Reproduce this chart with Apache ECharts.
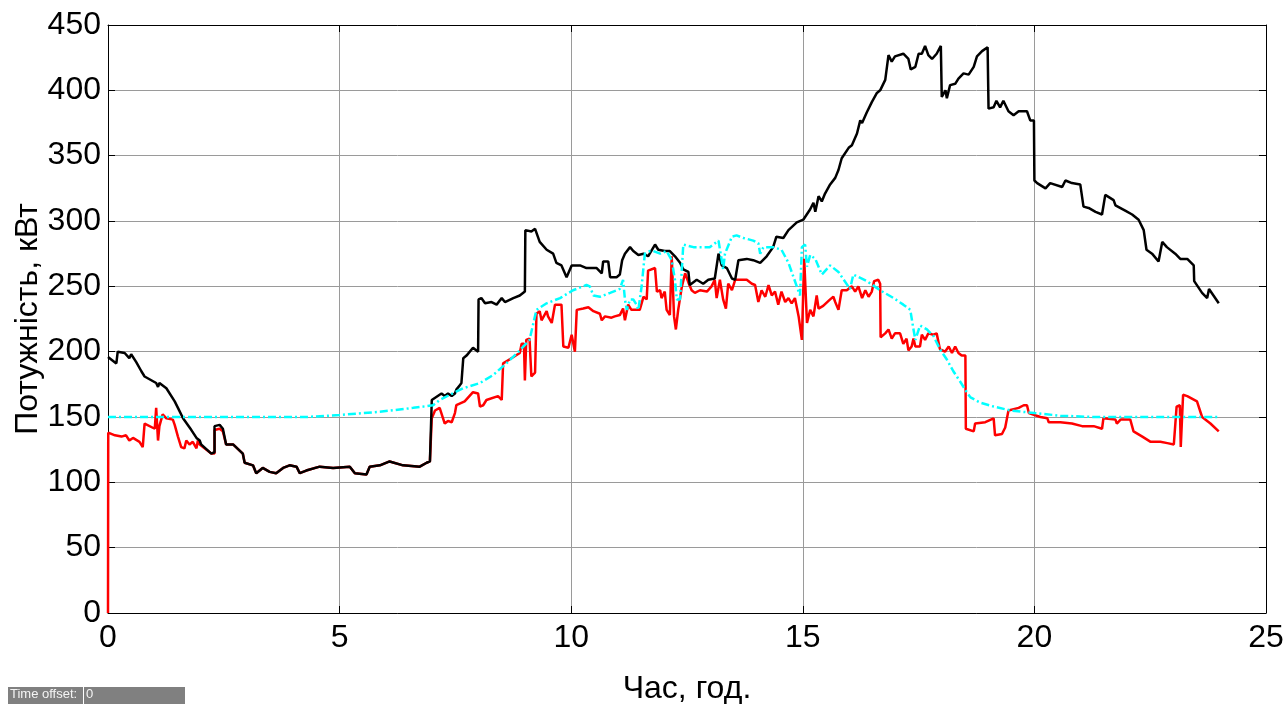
<!DOCTYPE html>
<html>
<head>
<meta charset="utf-8">
<script src="https://cdn.jsdelivr.net/npm/echarts@6/dist/echarts.min.js"></script>
<style>
html,body{margin:0;padding:0;background:#fff;}
#chart{width:1286px;height:704px;}
</style>
</head>
<body>
<div id="chart"></div>
<script>
// ---- Data ----
const xTicks = [0, 5, 10, 15, 20, 25];
const yTicks = [0, 50, 100, 150, 200, 250, 300, 350, 400, 450];

const blackHours = [0.00,0.18,0.21,0.36,0.46,0.50,0.61,0.72,0.79,1.04,1.08,1.11,1.26,1.44,1.51,1.62,1.80,1.91,1.98,2.01,2.23,2.30,2.30,2.41,2.48,2.55,2.70,2.91,2.95,3.13,3.20,3.34,3.49,3.63,3.78,3.92,4.07,4.14,4.28,4.57,4.86,5.22,5.33,5.58,5.65,5.87,6.08,6.37,6.73,6.88,6.95,6.98,6.99,7.02,7.20,7.27,7.34,7.42,7.49,7.52,7.59,7.63,7.67,7.74,7.88,7.99,8.00,8.06,8.14,8.28,8.39,8.50,8.57,8.75,8.89,9.00,9.01,9.14,9.22,9.32,9.47,9.61,9.68,9.79,9.90,10.01,10.19,10.33,10.55,10.66,10.69,10.80,10.84,10.98,11.05,11.10,11.16,11.27,11.34,11.45,11.56,11.66,11.81,11.88,12.02,12.13,12.24,12.35,12.42,12.53,12.56,12.71,12.85,12.96,13.10,13.18,13.25,13.36,13.47,13.54,13.61,13.79,13.93,14.08,14.22,14.36,14.43,14.58,14.69,14.87,15.01,15.16,15.23,15.27,15.34,15.41,15.48,15.59,15.70,15.77,15.84,15.99,16.06,16.17,16.24,16.28,16.38,16.49,16.60,16.67,16.78,16.85,16.92,16.99,17.17,17.28,17.33,17.43,17.50,17.57,17.64,17.71,17.79,17.89,17.98,18.00,18.08,18.11,18.18,18.29,18.36,18.47,18.58,18.69,18.76,18.87,18.99,19.01,19.12,19.18,19.26,19.33,19.44,19.55,19.66,19.84,19.91,19.99,20.00,20.06,20.24,20.34,20.60,20.67,20.81,20.99,21.06,21.17,21.32,21.46,21.53,21.71,21.75,21.96,22.11,22.25,22.36,22.42,22.54,22.68,22.76,22.86,23.04,23.15,23.30,23.44,23.45,23.62,23.73,23.77,23.98];
const blackValues = [196,191,200,199,195,198,192,185,181,176,173,176,172,162,157,149,140,134,132,129,122,123,143,144,141,129,129,122,115,113,107,111,108,107,111,113,112,107,109,112,111,112,107,106,112,113,116,113,112,115,116,117,163,164,168,166,168,166,168,171,174,176,195,197,203,200,240,241,237,238,236,241,238,241,243,246,293,292,294,284,278,275,268,266,257,266,266,264,264,260,269,269,257,257,259,270,275,280,277,274,275,273,282,278,277,277,273,268,263,261,251,255,252,255,256,275,266,264,256,255,270,271,270,268,273,280,288,287,293,299,301,309,314,307,319,315,321,328,333,339,348,356,358,367,377,375,383,391,398,400,408,427,422,426,428,424,416,418,428,428,434,427,424,428,434,395,400,394,404,405,409,413,412,418,426,430,433,386,387,392,387,392,384,381,384,384,377,377,331,329,325,329,326,331,329,328,311,310,307,305,320,316,312,308,305,301,293,278,275,269,284,280,275,271,271,266,254,245,241,248,237];

const redHours = [0.00,0.005,0.15,0.29,0.39,0.46,0.54,0.68,0.75,0.79,1.01,1.04,1.08,1.11,1.18,1.26,1.40,1.44,1.51,1.58,1.65,1.69,1.76,1.83,1.91,1.94,1.98,2.01,2.23,2.30,2.30,2.41,2.48,2.55,2.70,2.91,2.95,3.13,3.20,3.34,3.49,3.63,3.78,3.92,4.07,4.14,4.28,4.57,4.86,5.22,5.33,5.58,5.65,5.87,6.08,6.37,6.73,6.88,6.95,6.98,6.99,7.06,7.16,7.27,7.34,7.42,7.49,7.52,7.70,7.88,7.99,8.03,8.10,8.17,8.42,8.50,8.53,8.71,8.89,8.93,8.98,9.00,9.03,9.10,9.14,9.22,9.25,9.32,9.36,9.47,9.50,9.58,9.65,9.79,9.83,9.94,10.01,10.08,10.12,10.26,10.37,10.48,10.62,10.66,10.73,10.87,10.94,11.05,11.12,11.16,11.23,11.30,11.34,11.48,11.56,11.63,11.66,11.81,11.85,11.92,11.95,12.02,12.06,12.13,12.17,12.22,12.26,12.31,12.39,12.46,12.53,12.60,12.67,12.78,12.93,13.03,13.10,13.14,13.21,13.28,13.34,13.39,13.47,13.54,13.65,13.79,13.90,13.97,14.04,14.11,14.19,14.26,14.33,14.40,14.47,14.54,14.62,14.69,14.76,14.83,14.91,14.98,15.03,15.09,15.16,15.23,15.30,15.34,15.44,15.59,15.66,15.70,15.77,15.84,15.95,16.06,16.13,16.20,16.28,16.35,16.42,16.49,16.54,16.63,16.67,16.68,16.78,16.85,16.92,16.99,17.10,17.17,17.24,17.28,17.35,17.39,17.43,17.53,17.57,17.64,17.71,17.82,17.89,17.96,18.07,18.15,18.22,18.29,18.36,18.43,18.51,18.52,18.69,18.72,18.94,19.12,19.15,19.30,19.37,19.44,19.66,19.77,19.84,19.88,20.13,20.28,20.31,20.56,20.81,21.03,21.28,21.46,21.49,21.75,21.78,21.86,22.07,22.14,22.33,22.51,22.72,22.87,23.01,23.07,23.14,23.16,23.21,23.30,23.51,23.62,23.80,23.98];
const redValues = [0,138,136,135,136,132,134,131,127,145,141,157,132,143,152,149,148,144,135,127,126,132,129,131,126,132,129,129,122,122,140,141,139,129,129,122,115,113,107,111,108,107,111,113,112,107,109,112,111,112,107,106,112,113,116,113,112,115,116,117,149,155,157,145,147,146,153,159,162,169,168,158,159,163,166,163,191,195,199,206,206,178,209,210,181,184,229,231,224,231,227,222,236,236,204,203,213,200,232,233,234,231,229,224,227,226,227,228,233,224,236,232,233,232,242,240,262,264,246,247,241,246,232,228,273,227,217,232,250,260,253,247,245,247,246,250,255,241,255,240,233,252,247,255,255,255,252,251,238,247,242,251,243,246,236,246,238,241,237,241,227,209,271,222,232,227,243,233,235,240,242,238,232,247,247,250,246,250,241,247,242,246,254,255,252,211,214,217,210,214,214,206,210,201,204,210,204,204,213,209,214,213,214,202,200,204,199,204,199,197,197,141,139,145,146,149,136,137,142,155,157,159,159,153,150,149,146,146,145,143,143,141,149,148,145,148,148,139,135,131,131,130,129,158,159,127,167,166,162,150,145,139];

const cyanHours = [0.00,4.28,5.00,5.87,6.59,7.02,7.16,7.38,7.67,8.03,8.31,8.60,8.89,9.10,9.25,9.47,9.76,10.04,10.33,10.40,10.48,10.62,10.84,11.05,11.12,11.16,11.20,11.27,11.34,11.41,11.45,11.52,11.59,11.70,11.77,11.92,12.06,12.17,12.24,12.28,12.35,12.42,12.64,12.99,13.18,13.25,13.28,13.32,13.47,13.57,13.72,13.93,14.04,14.08,14.15,14.36,14.54,14.69,14.87,14.94,14.98,15.05,15.09,15.16,15.27,15.41,15.59,15.77,16.02,16.09,16.38,16.67,16.96,17.17,17.32,17.39,17.43,17.53,17.68,17.82,17.96,18.11,18.25,18.40,18.54,18.62,18.83,19.12,19.48,20.00,20.56,21.28,24.00];
const cyanValues = [150,150,151.5,154,157,159,163,167,172,176,182,191,201,209,232,237,241,247,251,250,243,242,245,248,255,240,232,240,240,236,232,250,275,277,277,275,277,270,255,240,240,282,280,280,285,270,263,275,288,289,287,285,283,275,280,280,278,268,250,243,280,282,265,274,271,259,266,261,248,259,254,247,241,236,232,217,209,220,217,212,202,194,185,177,169,165,161,158,155,153,151,150,150];

function pairs(xs, ys) { return xs.map((x, i) => [x, ys[i]]); }

const FONT = 'Liberation Sans, Arial, sans-serif';
const chart = echarts.init(document.getElementById('chart'), null, {renderer: 'canvas'});

const commonX = {
  type: 'value', min: xTicks[0], max: xTicks[xTicks.length - 1], interval: 5,
  axisLine: {show: true, onZero: false, lineStyle: {color: '#000', width: 1}},
  axisTick: {show: true, inside: true, length: 7, lineStyle: {color: '#000'}},
  splitLine: {show: false}
};
const commonY = {
  type: 'value', min: yTicks[0], max: yTicks[yTicks.length - 1], interval: 50,
  axisLine: {show: true, onZero: false, lineStyle: {color: '#000', width: 1}},
  axisTick: {show: true, inside: true, length: 7, lineStyle: {color: '#000'}},
  splitLine: {show: false}
};

chart.setOption({
  animation: false,
  backgroundColor: '#fff',
  grid: {left: 108, right: 20, top: 25, bottom: 91, containLabel: false, outerBoundsMode: 'none'},
  xAxis: [
    Object.assign({}, commonX, {
      position: 'bottom',
      name: 'Час, год.', nameLocation: 'middle', nameGap: 60, nameMoveOverlap: false,
      nameTextStyle: {fontFamily: FONT, fontSize: 32, color: '#000'},
      axisLabel: {fontFamily: FONT, fontSize: 32, color: '#000', margin: 9},
      splitLine: {show: true, lineStyle: {color: '#9a9a9a', width: 1}}
    }),
    Object.assign({}, commonX, {position: 'top', axisLabel: {show: false}})
  ],
  yAxis: [
    Object.assign({}, commonY, {
      position: 'left',
      name: 'Потужність, кВт', nameLocation: 'middle', nameGap: 64, nameMoveOverlap: false,
      nameTextStyle: {fontFamily: FONT, fontSize: 32, color: '#000'},
      axisLabel: {fontFamily: FONT, fontSize: 32, color: '#000', margin: 7},
      splitLine: {show: true, lineStyle: {color: '#9a9a9a', width: 1}}
    }),
    Object.assign({}, commonY, {position: 'right', axisLabel: {show: false}})
  ],
  series: [
    {type: 'line', name: 'red', data: pairs(redHours, redValues), showSymbol: false,
     lineStyle: {color: '#ff0000', width: 2.5}, itemStyle: {color: '#ff0000'}},
    {type: 'line', name: 'black', data: pairs(blackHours, blackValues), showSymbol: false,
     lineStyle: {color: '#000000', width: 2.5}, itemStyle: {color: '#000'}},
    {type: 'line', name: 'cyan', data: pairs(cyanHours, cyanValues), showSymbol: false,
     lineStyle: {color: '#00ffff', width: 2.5, type: [8, 3, 2, 3]}, itemStyle: {color: '#0ff'}}
  ],
  graphic: [
    {type: 'rect', left: 8, top: 687, shape: {width: 177, height: 17}, style: {fill: '#808080'}},
    {type: 'rect', left: 83, top: 687, shape: {width: 1, height: 17}, style: {fill: '#ffffff'}},
    {type: 'text', left: 10, top: 688, style: {text: 'Time offset:', fill: '#f4f4f4', font: '13px ' + FONT}},
    {type: 'text', left: 86, top: 688, style: {text: '0', fill: '#f4f4f4', font: '13px ' + FONT}}
  ]
});
</script>
</body>
</html>
